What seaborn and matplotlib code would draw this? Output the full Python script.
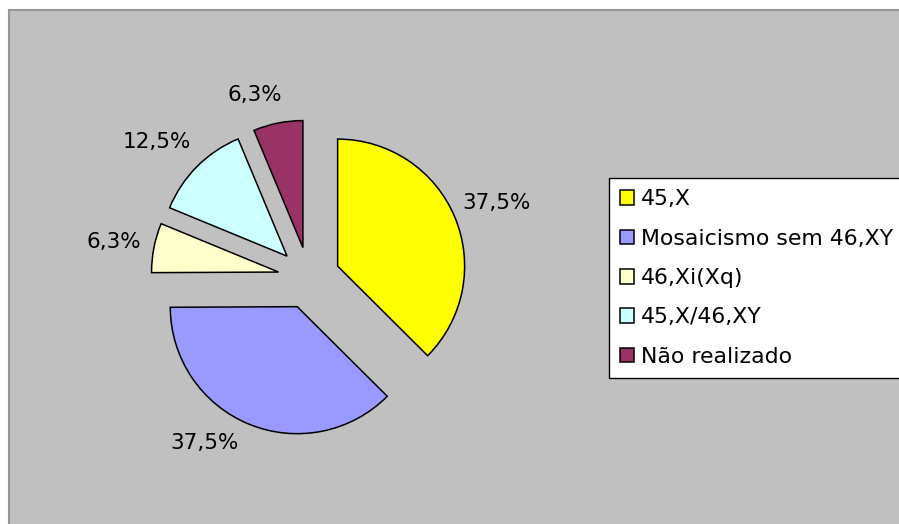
import matplotlib
matplotlib.use("Agg")
import matplotlib.pyplot as plt
from matplotlib.patches import Rectangle
import seaborn as sns

# ---- data ----
categories = ["45,X", "Mosaicismo sem 46,XY", "46,Xi(Xq)", "45,X/46,XY", "Não realizado"]
values = [37.5, 37.5, 6.3, 12.5, 6.3]
colors = ["#FFFF00", "#9999FF", "#FFFFCC", "#CCFFFF", "#993366"]

# ---- layout (pixel units) ----
W, H = 899, 524
CENTER = (309, H - 278)
RADIUS = 127
EXPLODE = 31
LABEL_POS = [(497, 203), (205, 443), (114, 242), (157, 142), (255, 95)]

sns.set_theme(style="white")
plt.rcParams["font.family"] = ["DejaVu Sans"]
plt.rcParams["text.color"] = "black"
palette = sns.color_palette(colors)

fig = plt.figure(figsize=(W / 100, H / 100), dpi=100)
fig.patch.set_facecolor("white")
ax = fig.add_axes([0, 0, 1, 1])

# grey plot area
ax.add_patch(Rectangle((9, -5), W + 10, H - 10 + 5, facecolor="#C0C0C0",
                       edgecolor="#969696", linewidth=1.5, zorder=0))

wedges, texts, autotexts = ax.pie(
    values, colors=palette, startangle=90, counterclock=False,
    explode=[EXPLODE] * len(values), center=CENTER, radius=RADIUS,
    autopct=lambda p: f"{p:.1f}%".replace(".", ","), pctdistance=1.3,
    wedgeprops=dict(edgecolor="black", linewidth=1.1),
    textprops=dict(fontsize=15.5, color="black"), frame=True)
ax.set_xlim(0, W)
ax.set_ylim(0, H)
ax.set_aspect("equal", adjustable="box")
ax.axis("off")
for t, (x, y) in zip(autotexts, LABEL_POS):
    t.set_position((x, H - y))
    t.set_ha("center")
    t.set_va("center")

leg = ax.legend(wedges, categories, loc="upper left",
                bbox_to_anchor=(609, H - 178), bbox_transform=ax.transData,
                borderaxespad=0, frameon=True, fancybox=False, shadow=False,
                framealpha=1.0, fontsize=15.8, labelcolor="black",
                handlelength=0.64, handleheight=0.64,
                handletextpad=0.3, labelspacing=0.88, borderpad=0.52)
leg.get_frame().set_edgecolor("black")
leg.get_frame().set_linewidth(1.0)
leg.get_frame().set_facecolor("white")

fig.savefig("out.png", dpi=100, facecolor="white")
